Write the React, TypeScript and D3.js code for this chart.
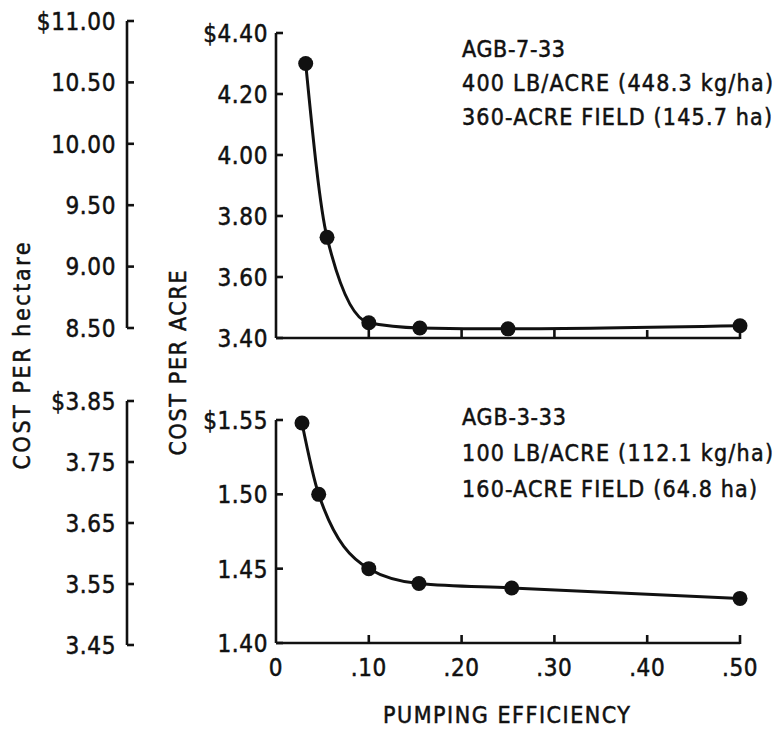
import React from "react";
import * as d3 from "d3";

const topX = [0.032, 0.055, 0.1, 0.155, 0.25, 0.5];
const topY = [4.3, 3.73, 3.45, 3.433, 3.43, 3.44];
const bottomX = [0.028, 0.046, 0.1, 0.154, 0.254, 0.5];
const bottomY = [1.548, 1.5, 1.45, 1.44, 1.437, 1.43];

const xTicks = [0, 0.1, 0.2, 0.3, 0.4, 0.5];
const xTickLabels = ["0", ".10", ".20", ".30", ".40", ".50"];

const topAcreTicks = [4.4, 4.2, 4.0, 3.8, 3.6, 3.4];
const topAcreLabels = ["$4.40", "4.20", "4.00", "3.80", "3.60", "3.40"];
const topHaTicks = [11.0, 10.5, 10.0, 9.5, 9.0, 8.5];
const topHaLabels = ["$11.00", "10.50", "10.00", "9.50", "9.00", "8.50"];

const botAcreTicks = [1.55, 1.5, 1.45, 1.4];
const botAcreLabels = ["$1.55", "1.50", "1.45", "1.40"];
const botHaTicks = [3.85, 3.75, 3.65, 3.55, 3.45];
const botHaLabels = ["$3.85", "3.75", "3.65", "3.55", "3.45"];

const topNotes = ["AGB-7-33", "400 LB/ACRE (448.3 kg/ha)", "360-ACRE FIELD (145.7 ha)"];
const topNoteWidths = [103, 311, 310];
const bottomNotes = ["AGB-3-33", "100 LB/ACRE (112.1 kg/ha)", "160-ACRE FIELD (64.8 ha)"];
const bottomNoteWidths = [104, 311, 295];

const FONT = "'DejaVu Sans Condensed', 'Liberation Sans Narrow', sans-serif";
const INK = "#111";
const TS = { stroke: INK, strokeWidth: 0.5 };

function VAxis({ x, scale, ticks, labels, labelRight }: any) {
  const [d0, d1] = scale.domain();
  return (
    <g>
      <line x1={x} x2={x} y1={scale(d1)} y2={scale(d0)} stroke={INK} strokeWidth={2.6} />
      {ticks.map((t: number, i: number) => (
        <g key={i}>
          <line x1={x} x2={x + 7} y1={scale(t)} y2={scale(t)} stroke={INK} strokeWidth={2.6} />
          <text
            x={labelRight}
            y={scale(t)}
            dy="0.37em"
            textAnchor="end"
            fontSize={24}
            letterSpacing={0.6}
            fill={INK}
            {...TS}
          >
            {labels[i]}
          </text>
        </g>
      ))}
    </g>
  );
}

function Panel({ xs, ys, yScale, xScale, baseY, notes, widths, noteY, noteGap }: any) {
  const pts = xs.map((x: number, i: number) => [xScale(x), yScale(ys[i])]);
  const line = d3.line().curve(d3.curveMonotoneX)(pts as [number, number][]);
  return (
    <g>
      <line x1={xScale(0)} x2={xScale(0.5)} y1={baseY} y2={baseY} stroke={INK} strokeWidth={2.6} />
      {xTicks.slice(1).map((t, i) => (
        <line key={i} x1={xScale(t)} x2={xScale(t)} y1={baseY + 1} y2={baseY - 8} stroke={INK} strokeWidth={2.6} />
      ))}
      <path d={line || ""} fill="none" stroke={INK} strokeWidth={3} />
      {pts.map((p: number[], i: number) => (
        <circle key={i} cx={p[0]} cy={p[1]} r={7.5} fill={INK} />
      ))}
      {notes.map((n: string, i: number) => (
        <text
          key={i}
          x={462}
          y={noteY + i * noteGap}
          fontSize={23}
          fill={INK}
          textLength={widths[i]}
          lengthAdjust="spacing"
          {...TS}
        >
          {n}
        </text>
      ))}
    </g>
  );
}

export default function App() {
  const xScale = d3.scaleLinear().domain([0, 0.5]).range([276, 740]);
  const topAcre = d3.scaleLinear().domain([3.4, 4.4]).range([338, 33]);
  const topHa = d3.scaleLinear().domain([8.5, 11.0]).range([328, 21]);
  const botAcre = d3.scaleLinear().domain([1.4, 1.55]).range([643, 420]);
  const botHa = d3.scaleLinear().domain([3.45, 3.85]).range([645, 401]);

  return (
    <svg
      width={783}
      height={731}
      style={{ position: "absolute", left: 0, top: 0, background: "#fff" }}
      fontFamily={FONT}
    >
      <rect width={783} height={731} fill="#fff" />
      <VAxis x={127} scale={topHa} ticks={topHaTicks} labels={topHaLabels} labelRight={116} />
      <VAxis x={127} scale={botHa} ticks={botHaTicks} labels={botHaLabels} labelRight={116} />
      <VAxis x={276} scale={topAcre} ticks={topAcreTicks} labels={topAcreLabels} labelRight={268} />
      <VAxis x={276} scale={botAcre} ticks={botAcreTicks} labels={botAcreLabels} labelRight={268} />

      <Panel xs={topX} ys={topY} yScale={topAcre} xScale={xScale} baseY={338}
        notes={topNotes} widths={topNoteWidths} noteY={57} noteGap={34} />
      <Panel xs={bottomX} ys={bottomY} yScale={botAcre} xScale={xScale} baseY={643}
        notes={bottomNotes} widths={bottomNoteWidths} noteY={425} noteGap={36} />

      {xTicks.map((t, i) => (
        <text key={i} x={xScale(t)} y={676} textAnchor="middle" fontSize={24} letterSpacing={0.6} fill={INK} {...TS}>
          {xTickLabels[i]}
        </text>
      ))}
      <text x={383} y={723} fontSize={23} textLength={247} lengthAdjust="spacing" fill={INK} {...TS}>
        PUMPING EFFICIENCY
      </text>
      <text
        transform="translate(30,356) rotate(-90)"
        textAnchor="middle"
        fontSize={23}
        textLength={227}
        lengthAdjust="spacing"
        fill={INK}
        {...TS}
      >
        COST PER hectare
      </text>
      <text
        transform="translate(186,363) rotate(-90)"
        textAnchor="middle"
        fontSize={23}
        textLength={185}
        lengthAdjust="spacing"
        fill={INK}
        {...TS}
      >
        COST PER ACRE
      </text>
    </svg>
  );
}
